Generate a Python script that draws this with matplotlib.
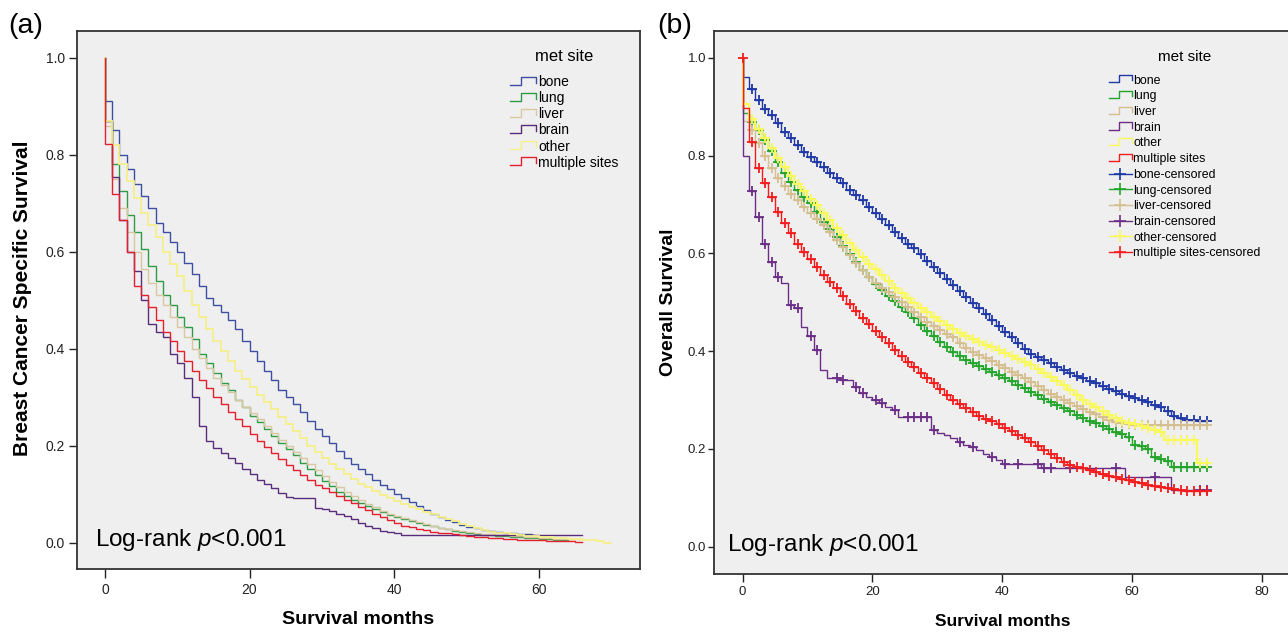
import numpy as np
import matplotlib
matplotlib.use("Agg")
import matplotlib.pyplot as plt
from matplotlib.lines import Line2D
from matplotlib.legend_handler import HandlerBase

plt.rcParams['font.family'] = ['Liberation Sans', 'DejaVu Sans']
plt.rcParams['mathtext.fontset'] = 'custom'
plt.rcParams['mathtext.rm'] = 'Liberation Sans'
plt.rcParams['mathtext.it'] = 'Liberation Sans:italic'

# ---------------- data ----------------
sites = ["bone", "lung", "liver", "brain", "other", "multiple sites"]
censored_labels = [s + "-censored" for s in sites]

# Panel (a): breast cancer specific survival, value per month (0, 1, 2, ...)
bone_a = [0.91, 0.85, 0.80, 0.77, 0.74, 0.715, 0.69, 0.66, 0.64, 0.62,
          0.60, 0.577, 0.555, 0.53, 0.505, 0.49, 0.475, 0.46, 0.44, 0.415,
          0.395, 0.375, 0.355, 0.335, 0.315, 0.30, 0.285, 0.27, 0.25, 0.235,
          0.22, 0.205, 0.19, 0.175, 0.163, 0.152, 0.142, 0.13, 0.12, 0.11,
          0.10, 0.092, 0.083, 0.075, 0.067, 0.06, 0.053, 0.047, 0.042, 0.037,
          0.033, 0.03, 0.027, 0.025, 0.022, 0.02, 0.019, 0.018, 0.017, 0.016]
lung_a = [0.87, 0.78, 0.725, 0.675, 0.64, 0.605, 0.57, 0.54, 0.51, 0.49,
          0.465, 0.445, 0.42, 0.39, 0.37, 0.35, 0.33, 0.315, 0.295, 0.28,
          0.262, 0.248, 0.235, 0.22, 0.205, 0.193, 0.18, 0.165, 0.152, 0.14,
          0.128, 0.116, 0.105, 0.097, 0.089, 0.081, 0.075, 0.069, 0.063, 0.058,
          0.053, 0.049, 0.045, 0.041, 0.037, 0.034, 0.031, 0.028, 0.025, 0.022,
          0.02, 0.018, 0.016, 0.015, 0.014, 0.013, 0.012, 0.011, 0.01, 0.009,
          0.008, 0.007, 0.006, 0.005]
liver_a = [0.86, 0.75, 0.69, 0.64, 0.60, 0.565, 0.535, 0.51, 0.49, 0.465,
           0.445, 0.425, 0.40, 0.38, 0.36, 0.34, 0.325, 0.31, 0.295, 0.28,
           0.268, 0.255, 0.24, 0.226, 0.212, 0.20, 0.188, 0.175, 0.162, 0.15,
           0.138, 0.126, 0.115, 0.105, 0.096, 0.088, 0.08, 0.073, 0.066, 0.06,
           0.055, 0.05, 0.046, 0.042, 0.038, 0.034, 0.031, 0.028, 0.026, 0.024,
           0.022, 0.02, 0.018, 0.017, 0.016, 0.015, 0.014, 0.013, 0.012, 0.011,
           0.01, 0.009, 0.008, 0.008, 0.007, 0.007]
brain_a = [0.87, 0.755, 0.665, 0.60, 0.56, 0.50, 0.45, 0.435, 0.425, 0.39,
           0.37, 0.34, 0.30, 0.24, 0.21, 0.195, 0.185, 0.175, 0.165, 0.152,
           0.142, 0.13, 0.122, 0.112, 0.102, 0.095, 0.092, 0.092, 0.092, 0.072,
           0.07, 0.065, 0.06, 0.055, 0.048, 0.04, 0.035, 0.03, 0.025, 0.022,
           0.02, 0.015, 0.015, 0.015, 0.015, 0.015, 0.015, 0.015, 0.015, 0.015,
           0.015, 0.015, 0.015, 0.015, 0.015, 0.015, 0.015, 0.015, 0.015, 0.015,
           0.015, 0.015, 0.015, 0.015, 0.015, 0.015]
other_a = [0.87, 0.82, 0.78, 0.745, 0.71, 0.68, 0.655, 0.63, 0.60, 0.575,
           0.55, 0.52, 0.49, 0.465, 0.44, 0.415, 0.395, 0.375, 0.355, 0.338,
           0.322, 0.305, 0.29, 0.275, 0.26, 0.245, 0.23, 0.215, 0.20, 0.187,
           0.175, 0.163, 0.152, 0.142, 0.132, 0.122, 0.114, 0.106, 0.099, 0.092,
           0.086, 0.08, 0.074, 0.069, 0.064, 0.059, 0.054, 0.049, 0.044, 0.039,
           0.034, 0.03, 0.026, 0.023, 0.021, 0.019, 0.017, 0.015, 0.014, 0.013,
           0.012, 0.011, 0.01, 0.009, 0.008, 0.007, 0.006, 0.005, 0.003, 0.0]
multi_a = [0.823, 0.72, 0.665, 0.60, 0.53, 0.51, 0.485, 0.46, 0.435, 0.415,
           0.395, 0.375, 0.355, 0.335, 0.318, 0.30, 0.285, 0.27, 0.255, 0.24,
           0.225, 0.21, 0.198, 0.185, 0.172, 0.16, 0.15, 0.14, 0.13, 0.12,
           0.112, 0.104, 0.096, 0.089, 0.081, 0.074, 0.067, 0.06, 0.053, 0.046,
           0.04, 0.035, 0.032, 0.029, 0.026, 0.023, 0.021, 0.019, 0.017, 0.015,
           0.013, 0.012, 0.011, 0.01, 0.009, 0.008, 0.007, 0.006, 0.006, 0.005,
           0.005, 0.004, 0.004, 0.003, 0.003, 0.002]
end_a = [59.5, 64, 66, 66, 70, 66]

# Panel (b): overall survival, value per month (0 ... 71)
bone_b = [0.96, 0.935, 0.914, 0.896, 0.883, 0.866, 0.849, 0.835, 0.821, 0.808,
          0.797, 0.787, 0.777, 0.764, 0.753, 0.743, 0.73, 0.72, 0.708, 0.695,
          0.682, 0.67, 0.657, 0.644, 0.632, 0.62, 0.61, 0.598, 0.585, 0.573,
          0.56, 0.548, 0.535, 0.522, 0.51, 0.499, 0.488, 0.476, 0.464, 0.452,
          0.44, 0.428, 0.416, 0.405, 0.395, 0.388, 0.381, 0.375, 0.368, 0.361,
          0.355, 0.35, 0.345, 0.339, 0.334, 0.329, 0.323, 0.318, 0.313, 0.308,
          0.304, 0.3, 0.295, 0.29, 0.286, 0.278, 0.268, 0.263, 0.26, 0.259,
          0.258, 0.258]
lung_b = [0.886, 0.868, 0.853, 0.832, 0.81, 0.787, 0.764, 0.745, 0.73, 0.715,
          0.702, 0.685, 0.665, 0.65, 0.633, 0.615, 0.598, 0.582, 0.566, 0.551,
          0.537, 0.525, 0.513, 0.502, 0.491, 0.48, 0.467, 0.454, 0.442, 0.43,
          0.418, 0.408, 0.398, 0.39, 0.382, 0.376, 0.37, 0.364, 0.358, 0.352,
          0.345, 0.338, 0.331, 0.324, 0.317, 0.31, 0.303, 0.296, 0.29, 0.284,
          0.277, 0.27, 0.263, 0.257, 0.252, 0.246, 0.24, 0.235, 0.23, 0.225,
          0.208, 0.205, 0.2, 0.184, 0.18, 0.175, 0.164, 0.164, 0.164, 0.164,
          0.164, 0.164]
liver_b = [0.87, 0.853, 0.825, 0.80, 0.775, 0.755, 0.738, 0.722, 0.708, 0.695,
           0.683, 0.67, 0.657, 0.643, 0.628, 0.612, 0.596, 0.58, 0.566, 0.552,
           0.54, 0.53, 0.52, 0.51, 0.50, 0.49, 0.48, 0.47, 0.46, 0.451,
           0.443, 0.436, 0.428, 0.416, 0.406, 0.398, 0.392, 0.386, 0.379, 0.372,
           0.365, 0.358, 0.351, 0.344, 0.337, 0.329, 0.321, 0.313, 0.306, 0.299,
           0.293, 0.287, 0.281, 0.276, 0.272, 0.266, 0.26, 0.255, 0.252, 0.25,
           0.248, 0.248, 0.248, 0.248, 0.248, 0.248, 0.248, 0.248, 0.248, 0.248,
           0.248, 0.248]
brain_b = [0.80, 0.727, 0.675, 0.62, 0.582, 0.552, 0.539, 0.494, 0.488, 0.45,
           0.43, 0.403, 0.361, 0.344, 0.344, 0.34, 0.34, 0.327, 0.315, 0.307,
           0.30, 0.293, 0.286, 0.279, 0.266, 0.266, 0.266, 0.266, 0.266, 0.239,
           0.232, 0.228, 0.222, 0.215, 0.208, 0.204, 0.198, 0.19, 0.184, 0.177,
           0.17, 0.17, 0.17, 0.17, 0.17, 0.17, 0.16, 0.16, 0.16, 0.16,
           0.16, 0.16, 0.16, 0.16, 0.16, 0.16, 0.16, 0.16, 0.16, 0.143,
           0.143, 0.143, 0.143, 0.143, 0.143, 0.143, 0.116, 0.116, 0.116, 0.116,
           0.116, 0.116]
other_b = [0.905, 0.875, 0.855, 0.835, 0.815, 0.795, 0.776, 0.758, 0.742, 0.727,
           0.712, 0.698, 0.683, 0.668, 0.652, 0.637, 0.622, 0.607, 0.592, 0.579,
           0.567, 0.555, 0.543, 0.53, 0.518, 0.508, 0.498, 0.488, 0.479, 0.47,
           0.462, 0.454, 0.446, 0.438, 0.43, 0.424, 0.418, 0.413, 0.408, 0.402,
           0.396, 0.39, 0.384, 0.378, 0.371, 0.363, 0.355, 0.347, 0.339, 0.33,
           0.32, 0.31, 0.30, 0.292, 0.285, 0.277, 0.27, 0.264, 0.258, 0.254,
           0.25, 0.247, 0.243, 0.239, 0.235, 0.218, 0.218, 0.218, 0.218, 0.218,
           0.171, 0.171]
multi_b = [0.897, 0.828, 0.774, 0.743, 0.716, 0.685, 0.661, 0.641, 0.62, 0.603,
           0.588, 0.572, 0.556, 0.542, 0.53, 0.513, 0.497, 0.482, 0.468, 0.455,
           0.441, 0.428, 0.416, 0.403, 0.39, 0.378, 0.367, 0.356, 0.345, 0.334,
           0.322, 0.311, 0.301, 0.292, 0.283, 0.275, 0.268, 0.262, 0.257, 0.25,
           0.243, 0.236, 0.229, 0.222, 0.214, 0.206, 0.198, 0.19, 0.182, 0.174,
           0.168, 0.164, 0.16, 0.156, 0.153, 0.149, 0.145, 0.142, 0.139, 0.136,
           0.133, 0.13, 0.127, 0.124, 0.122, 0.12, 0.117, 0.115, 0.114, 0.113,
           0.113, 0.113]
end_b = 71.5

# months with censored observations (panel b)
cens_dense = list(range(1, 72))
cens_brain = [1, 2, 3, 4, 5, 7, 8, 10, 11, 14, 15, 17, 18, 20, 21, 23, 25, 26, 27,
              28, 29, 33, 35, 38, 40, 42, 45, 46, 47, 50, 57, 63, 70, 71]
cens_b = [cens_dense, cens_dense, cens_dense, cens_brain, cens_dense, cens_dense]
start_censor_b = (0.0, 1.0)  # censored mark at time 0 (multiple sites)

colors_a = ['#3c4fa0', '#2f9b45', '#d9c7a2', '#5a2c7c', '#f6f08a', '#e5202e']
colors_b = ['#1f38a6', '#22a52a', '#d6bf8f', '#6b2e87', '#f9f95c', '#f41c1c']

# ---------------- drawing ----------------
W, H = 1288, 633
fig = plt.figure(figsize=(W / 100, H / 100), dpi=100)
bg = '#efefef'
ax1 = fig.add_axes([76.7 / W, 1 - 569 / H, (640 - 76.7) / W, (569 - 30.7) / H], facecolor=bg)
ax2 = fig.add_axes([714.4 / W, 1 - 574 / H, (W - 714.4) / W, (574 - 31) / H], facecolor=bg)


def km_step(ax, vals, end, color, lw, z):
    v = np.asarray(vals, dtype=float)
    t = np.arange(len(v))
    x = np.r_[0.0, t, end]
    y = np.r_[1.0, v, v[-1]]
    ax.step(x, y, where='post', color=color, lw=lw, zorder=z, solid_joinstyle='miter')
    return v


curves_a = [bone_a, lung_a, liver_a, brain_a, other_a, multi_a]
for i, (vals, end) in enumerate(zip(curves_a, end_a)):
    km_step(ax1, vals, end, colors_a[i], 1.0 if i != 4 else 1.3, 3 + i)

curves_b = [bone_b, lung_b, liver_b, brain_b, other_b, multi_b]
for i, vals in enumerate(curves_b):
    v = km_step(ax2, vals, end_b, colors_b[i], 1.0 if i != 4 else 1.6, 3 + i)
    ct = np.asarray(cens_b[i])
    ax2.plot(ct + 0.5, v[ct], ls='none', marker='+', ms=6.5, mew=1.3,
             color=colors_b[i], zorder=3 + i)
ax2.plot([start_censor_b[0]], [start_censor_b[1]], ls='none', marker='+', ms=6.5,
         mew=1.3, color=colors_b[5], zorder=10)

# axes styling
for ax in (ax1, ax2):
    for s in ax.spines.values():
        s.set_linewidth(1.3)
        s.set_color('#333333')
    ax.set_yticks([0.0, 0.2, 0.4, 0.6, 0.8, 1.0])
    ax.yaxis.set_major_formatter(matplotlib.ticker.FormatStrFormatter('%.1f'))

ax2.spines['right'].set_visible(False)

ax1.set_xlim(-3.9, 74.0)
ax1.set_ylim(-0.0542, 1.0557)
ax1.set_xticks([0, 20, 40, 60])
ax1.tick_params(axis='y', length=6, width=1, pad=2.5, labelsize=10, colors='#222222')
ax1.tick_params(axis='x', length=6.5, width=1, pad=3.3, labelsize=10, colors='#222222')

ax2.set_xlim(-4.33, 84.05)
ax2.set_ylim(-0.0558, 1.0546)
ax2.set_xticks([0, 20, 40, 60, 80])
ax2.tick_params(axis='y', length=4, width=1, pad=2, labelsize=9.5, colors='#222222')
ax2.tick_params(axis='x', length=5.5, width=1, pad=3, labelsize=9.5, colors='#222222')

# axis labels
ax1.set_xlabel('Survival months', fontsize=14, fontweight='bold')
ax1.xaxis.label.set_verticalalignment('center')
ax1.xaxis.set_label_coords(0.4994, -0.0929)
ax1.set_ylabel('Breast Cancer Specific Survival', fontsize=15, fontweight='bold')
ax1.yaxis.label.set_verticalalignment('center')
ax1.yaxis.set_label_coords(-0.0971, 0.5025)

ax2.set_xlabel('Survival months', fontsize=12.5, fontweight='bold')
ax2.xaxis.label.set_verticalalignment('center')
ax2.xaxis.set_label_coords(0.502, -0.0878)
ax2.set_ylabel('Overall Survival', fontsize=14, fontweight='bold')
ax2.yaxis.label.set_verticalalignment('center')
ax2.yaxis.set_label_coords(-0.0792, 0.501)

# annotations
ax1.text(0.0325, 0.0427, r'Log-rank $\mathit{p}$<0.001', transform=ax1.transAxes,
         fontsize=17.5, ha='left', va='baseline')
ax2.text(0.022, 0.0429, r'Log-rank $\mathit{p}$<0.001', transform=ax2.transAxes,
         fontsize=17.5, ha='left', va='baseline')
fig.text(26 / W, 1 - 26 / H, '(a)', fontsize=20.5, ha='center', va='center')
fig.text(675 / W, 1 - 26 / H, '(b)', fontsize=20.5, ha='center', va='center')


# legends with Kaplan-Meier style handles
class KMHandler(HandlerBase):
    def create_artists(self, legend, orig_handle, xdescent, ydescent, width, height,
                       fontsize, trans):
        color = orig_handle.get_color()
        lw = orig_handle.get_linewidth()
        x0, y0 = -xdescent, -ydescent
        if orig_handle.get_marker() == '+':
            ln = Line2D([x0, x0 + width], [y0 + height / 2] * 2, color=color, lw=lw,
                        transform=trans)
            mk = Line2D([x0 + width / 2], [y0 + height / 2], ls='none', marker='+',
                        ms=9, mew=1.2, color=color, transform=trans)
            return [ln, mk]
        xs = [x0, x0 + 0.42 * width, x0 + 0.42 * width, x0 + width, x0 + width]
        ys = [y0 + 0.1 * height, y0 + 0.1 * height, y0 + 1.0 * height,
              y0 + 1.0 * height, y0 + 0.35 * height]
        return [Line2D(xs, ys, color=color, lw=lw, transform=trans)]


handles_a = [Line2D([], [], color=c, lw=1.0) for c in colors_a]
leg1 = ax1.legend(handles_a, sites, handler_map={Line2D: KMHandler()},
                  loc='upper left', bbox_to_anchor=(0.769, 0.9663), frameon=False,
                  fontsize=10, title='met site', title_fontsize=12,
                  handlelength=1.9, handleheight=0.6, handletextpad=0.15,
                  labelspacing=0.15, borderpad=0, borderaxespad=0)
try:
    leg1._legend_box.sep = 8.2
except Exception:
    pass

handles_b = [Line2D([], [], color=c, lw=1.0) for c in colors_b] + \
            [Line2D([], [], color=c, lw=1.0, marker='+') for c in colors_b]
leg2 = ax2.legend(handles_b, sites + censored_labels, handler_map={Line2D: KMHandler()},
                  loc='upper left', bbox_to_anchor=(0.688, 0.9646), frameon=False,
                  fontsize=8.9, title='met site', title_fontsize=11,
                  handlelength=1.85, handleheight=0.6, handletextpad=0.1,
                  labelspacing=0.3, borderpad=0, borderaxespad=0)
try:
    leg2._legend_box.sep = 7.5
except Exception:
    pass

fig.savefig('out.png', dpi=100, facecolor='white')
